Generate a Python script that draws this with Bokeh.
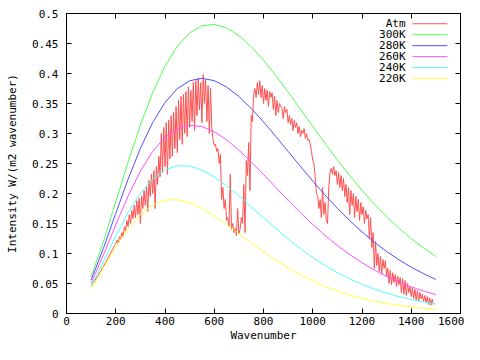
from bokeh.plotting import figure
from bokeh.models import Range1d, FixedTicker, LinearAxis, CustomJSTickFormatter
from bokeh.core.properties import value
from bokeh.embed import file_html
from bokeh.resources import INLINE

# ---------------- data ----------------
x_ticks = [0, 200, 400, 600, 800, 1000, 1200, 1400, 1600]
y_ticks = [0, 0.05, 0.1, 0.15, 0.2, 0.25, 0.3, 0.35, 0.4, 0.45, 0.5]

planck_wn = list(range(100, 1501, 50))
t300 = [0.06080, 0.11990, 0.18597, 0.25235, 0.31417, 0.36811, 0.41216, 0.44538, 0.46766, 0.47952,
        0.48189, 0.47600, 0.46318, 0.44480, 0.42218, 0.39657, 0.36901, 0.34048, 0.31174, 0.28343,
        0.25604, 0.22994, 0.20537, 0.18251, 0.16144, 0.14219, 0.12473, 0.10900, 0.09492]
t280 = [0.05570, 0.10873, 0.16679, 0.22371, 0.27513, 0.31826, 0.35163, 0.37475, 0.38793, 0.39198,
        0.38805, 0.37748, 0.36163, 0.34183, 0.31934, 0.29509, 0.27013, 0.24517, 0.22078, 0.19741,
        0.17537, 0.15486, 0.13600, 0.11883, 0.10334, 0.08948, 0.07717, 0.06630, 0.05676]
t260 = [0.05062, 0.09763, 0.14785, 0.19562, 0.23715, 0.27022, 0.29390, 0.30818, 0.31371, 0.31157,
        0.30306, 0.28956, 0.27238, 0.25274, 0.23170, 0.21012, 0.18872, 0.16803, 0.14842, 0.13016,
        0.11340, 0.09820, 0.08457, 0.07246, 0.06179, 0.05246, 0.04436, 0.03737, 0.03137]
t240 = [0.04556, 0.08663, 0.12920, 0.16819, 0.20043, 0.22431, 0.23944, 0.24625, 0.24571, 0.23908,
        0.22774, 0.21300, 0.19608, 0.17800, 0.15961, 0.14156, 0.12432, 0.10821, 0.09345, 0.08011,
        0.06822, 0.05774, 0.04860, 0.04070, 0.03392, 0.02814, 0.02326, 0.01914, 0.01570]
t220 = [0.04053, 0.07575, 0.11092, 0.14158, 0.16525, 0.18096, 0.18884, 0.18971, 0.18478, 0.17542,
        0.16294, 0.14854, 0.13324, 0.11783, 0.10290, 0.08887, 0.07599, 0.06439, 0.05413, 0.04516,
        0.03743, 0.03084, 0.02526, 0.02059, 0.01670, 0.01348, 0.01084, 0.00869, 0.00693]

atm_val = [
    # 100-200
    0.046, 0.049, 0.052, 0.055, 0.058, 0.062, 0.064, 0.069, 0.071, 0.076, 0.078, 0.083, 0.085, 0.090, 0.093, 0.098, 0.101, 0.106, 0.108, 0.114, 0.116,
    # 205-300
    0.122, 0.118, 0.128, 0.124, 0.135, 0.128, 0.145, 0.138, 0.155, 0.145, 0.165, 0.150, 0.172, 0.158, 0.180, 0.160, 0.188, 0.165, 0.192, 0.150,
    # 305-380
    0.196, 0.175, 0.205, 0.180, 0.212, 0.170, 0.222, 0.195, 0.232, 0.200, 0.238, 0.175, 0.245, 0.215, 0.262, 0.228,
    # 385-470
    0.300, 0.235, 0.310, 0.245, 0.318, 0.232, 0.322, 0.258, 0.330, 0.262, 0.335, 0.275, 0.345, 0.268, 0.355, 0.290, 0.362, 0.282,
    # 475-560
    0.365, 0.300, 0.370, 0.295, 0.378, 0.310, 0.372, 0.320, 0.385, 0.305, 0.388, 0.330, 0.392, 0.340, 0.385, 0.318, 0.398, 0.350,
    # 565-610
    0.390, 0.320, 0.380, 0.300, 0.375, 0.310, 0.290, 0.280, 0.282, 0.270,
    # 615-700
    0.275, 0.250, 0.265, 0.190, 0.210, 0.175, 0.190, 0.155, 0.160, 0.145, 0.232, 0.140, 0.150, 0.135, 0.142, 0.130, 0.175, 0.133,
    # 705-760
    0.140, 0.160, 0.150, 0.215, 0.135, 0.255, 0.230, 0.285, 0.205, 0.330, 0.320, 0.365,
    # 765-840
    0.375, 0.360, 0.385, 0.365, 0.388, 0.360, 0.380, 0.350, 0.375, 0.355, 0.372, 0.345, 0.370, 0.360, 0.368, 0.340,
    # 845-900
    0.362, 0.330, 0.355, 0.335, 0.350, 0.345, 0.342, 0.325, 0.345, 0.335, 0.340, 0.318,
    # 905-990
    0.330, 0.315, 0.325, 0.305, 0.322, 0.310, 0.318, 0.300, 0.312, 0.295, 0.305, 0.300, 0.308, 0.292, 0.300, 0.288, 0.290, 0.282,
    # 995-1070
    0.270, 0.255, 0.250, 0.228, 0.200, 0.195, 0.175, 0.190, 0.160, 0.210, 0.165, 0.185, 0.155, 0.150, 0.210, 0.235,
    # 1075-1125
    0.242, 0.232, 0.245, 0.230, 0.238, 0.215, 0.235, 0.210, 0.230, 0.205, 0.225,
    # 1130-1165
    0.195, 0.215, 0.185, 0.210, 0.165, 0.205, 0.180, 0.200,
    # 1170-1225
    0.160, 0.195, 0.170, 0.190, 0.155, 0.185, 0.165, 0.178, 0.150, 0.172, 0.158, 0.165,
    # 1230-1260
    0.125, 0.160, 0.110, 0.135, 0.075, 0.120, 0.080,
    # 1265-1300
    0.100, 0.070, 0.095, 0.065, 0.090, 0.075, 0.088, 0.062,
    # 1305-1355
    0.075, 0.050, 0.072, 0.048, 0.068, 0.052, 0.065, 0.045, 0.062, 0.048, 0.060,
    # 1360-1405
    0.035, 0.058, 0.032, 0.055, 0.030, 0.050, 0.035, 0.045, 0.028, 0.042,
    # 1410-1465
    0.025, 0.040, 0.022, 0.038, 0.020, 0.035, 0.024, 0.032, 0.020, 0.030, 0.018, 0.028,
    # 1470-1490
    0.015, 0.026, 0.014, 0.024, 0.015,
]
atm_wn = list(range(100, 100 + 5 * len(atm_val), 5))

series_labels = ["Atm", "300K", "280K", "260K", "240K", "220K"]
series_colors = ["#ff5050", "#50ff50", "#5050ff", "#ff50ff", "#50ffff", "#ffff40"]

# legend layout (data units)
leg_text_x = 1377
leg_line_x0 = 1405
leg_line_x1 = 1547
leg_y = [0.4829, 0.4646, 0.4464, 0.4281, 0.4098, 0.3915]

FONT = "DejaVu Sans Mono"
FS = "11px"

p = figure(width=464, height=344, x_range=Range1d(0, 1600), y_range=Range1d(0, 0.5),
           output_backend="svg", toolbar_location=None,
           min_border_left=66, min_border_right=4, min_border_top=13, min_border_bottom=30)
p.xgrid.visible = False
p.ygrid.visible = False
p.outline_line_color = "black"
p.outline_line_width = 1
p.background_fill_color = "white"
p.border_fill_color = "white"

xt = FixedTicker(ticks=x_ticks)
yt = FixedTicker(ticks=y_ticks)
yfmt = CustomJSTickFormatter(code="return String(Math.round(tick*100)/100);")
blank = CustomJSTickFormatter(code="return '';")


def style_axis(ax):
    ax.major_tick_in = 5
    ax.major_tick_out = 0
    ax.minor_tick_in = 0
    ax.minor_tick_out = 0
    ax.axis_line_color = "black"
    ax.major_tick_line_color = "black"
    ax.major_label_text_font = FONT
    ax.major_label_text_font_size = FS
    ax.major_label_text_color = "black"
    ax.axis_label_text_font = FONT
    ax.axis_label_text_font_size = FS
    ax.axis_label_text_font_style = "normal"
    ax.axis_label_text_color = "black"


p.xaxis.ticker = xt
p.yaxis.ticker = yt
p.yaxis.formatter = yfmt
style_axis(p.xaxis[0])
style_axis(p.yaxis[0])
p.xaxis.axis_label = "Wavenumber"
p.yaxis.axis_label = "Intensity W/(m2 wavenumber)"
p.xaxis.major_label_standoff = 3
p.xaxis.axis_label_standoff = 1
p.yaxis.major_label_standoff = 8
p.yaxis.axis_label_standoff = 10

for loc, ticks in (("above", x_ticks), ("right", y_ticks)):
    ax = LinearAxis(ticker=FixedTicker(ticks=ticks), formatter=blank)
    style_axis(ax)
    ax.major_label_standoff = 0
    ax.axis_label_standoff = 0
    p.add_layout(ax, loc)

# series
p.line(atm_wn, atm_val, line_color=series_colors[0], line_width=1)
for vals, col in zip([t300, t280, t260, t240, t220], series_colors[1:]):
    p.line(planck_wn, vals, line_color=col, line_width=1)

# legend (gnuplot style: text then line sample)
p.text(x=[leg_text_x] * len(series_labels), y=leg_y, text=series_labels,
       text_font=value(FONT), text_font_size=FS, text_align="right",
       text_baseline="middle", text_color="black")
p.segment(x0=[leg_line_x0] * len(series_labels), y0=leg_y,
          x1=[leg_line_x1] * len(series_labels), y1=leg_y,
          line_color=series_colors, line_width=1)

open("out.html", "w").write(file_html(p, INLINE))
